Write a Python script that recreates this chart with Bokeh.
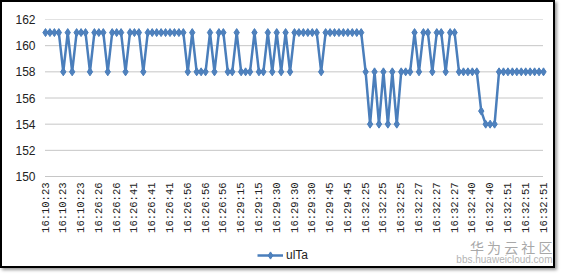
import math
from bokeh.plotting import figure
from bokeh.models import Range1d, FixedTicker, Legend, LegendItem, Label, ColumnDataSource
from bokeh.embed import file_html
from bokeh.resources import INLINE

# ---- data ----
ulta = [161, 161, 161, 161, 158, 161, 158, 161, 161, 161, 158, 161, 161, 161, 158,
        161, 161, 161, 158, 161, 161, 161, 158,
        161, 161, 161, 161, 161, 161, 161, 161, 161,
        158, 161, 158, 158, 158, 161, 158, 161, 161, 158, 158, 161, 158, 158, 158,
        161, 158, 158, 161, 158, 161, 158, 161, 158,
        161, 161, 161, 161, 161, 161,
        158,
        161, 161, 161, 161, 161, 161, 161, 161, 161,
        158, 154, 158, 154, 158, 154, 158, 154,
        158, 158, 158,
        161, 158, 161, 161, 158, 161, 161, 158, 161, 161,
        158, 158, 158, 158, 158,
        155, 154, 154, 154,
        158, 158, 158, 158, 158, 158, 158, 158, 158, 158, 158]
tick_labels = ["16:10:23", "16:10:23", "16:10:23", "16:26:26", "16:26:26",
               "16:26:41", "16:26:41", "16:26:41", "16:26:56", "16:26:56", "16:26:56",
               "16:29:15", "16:29:15", "16:29:30", "16:29:30", "16:29:30",
               "16:29:45", "16:29:45", "16:32:25", "16:32:25", "16:32:25",
               "16:32:27", "16:32:27", "16:32:27", "16:32:40", "16:32:40",
               "16:32:51", "16:32:51", "16:32:51"]
label_step = 4
y_ticks = [150, 152, 154, 156, 158, 160, 162]
series_name = "ulTa"

# ---- layout geometry (canvas pixels) ----
W, H = 555, 268
LEFT, RIGHT, TOP = 38, 2, 17
PLOT_X0, PLOT_X1 = 43, 541      # pixel span of first/last category
PLOT_Y_TOP, PLOT_Y_BOT = 17, 174  # pixel span of 162..150

n = len(ulta)
px_per_x = (PLOT_X1 - PLOT_X0) / (n - 1)
x_start = -(PLOT_X0 - LEFT) / px_per_x
x_end = (n - 1) + ((W - RIGHT) - PLOT_X1) / px_per_x
px_per_y = (PLOT_Y_BOT - PLOT_Y_TOP) / (y_ticks[-1] - y_ticks[0])
y_start = y_ticks[0] - (H - PLOT_Y_BOT) / px_per_y

p = figure(width=W, height=H, output_backend="svg", toolbar_location=None,
           x_range=Range1d(x_start, x_end), y_range=Range1d(y_start, y_ticks[-1]),
           min_border_left=LEFT, min_border_right=RIGHT, min_border_top=TOP,
           min_border_bottom=0)
p.styles = {"border": "2px solid #000", "box-shadow": "2px 2px 3px #999"}
p.outline_line_color = None
p.background_fill_color = "white"
p.border_fill_color = "white"

# gridlines across the category span only
p.segment(x0=[0] * len(y_ticks), x1=[n - 1] * len(y_ticks), y0=y_ticks, y1=y_ticks,
          line_color="#8c8c8c", line_dash="1 1", line_width=1)

LINE = "#4A7EBB"
FILL = "#4F81BD"
src = ColumnDataSource(dict(x=list(range(n)), y=ulta))
r_line = p.line("x", "y", source=src, line_color=LINE, line_width=2.5)
r_mark = p.scatter("x", "y", source=src, marker="diamond", size=8,
                   fill_color=FILL, line_color=LINE, line_width=1)

# y axis
p.yaxis.ticker = FixedTicker(ticks=y_ticks)
p.yaxis.axis_line_color = None
p.yaxis.major_tick_line_color = None
p.yaxis.minor_tick_line_color = None
p.yaxis.major_tick_out = 0
p.yaxis.major_label_standoff = 5
p.yaxis.major_label_text_font = "Liberation Sans"
p.yaxis.major_label_text_font_size = "12px"
p.yaxis.major_label_text_color = "#222"

# x axis: category labels drawn below the 150 line
p.xaxis.visible = False
p.xgrid.grid_line_color = None
p.ygrid.grid_line_color = None
xt = [i * label_step for i in range(len(tick_labels))]
p.text(x=xt, y=[y_ticks[0] - 6 / px_per_y] * len(xt), text=tick_labels,
       angle=math.pi / 2, text_align="right", text_baseline="middle",
       text_font={"value": "Liberation Mono"}, text_font_size="10.5px",
       text_color="#222")

legend = Legend(items=[LegendItem(label=series_name, renderers=[r_line, r_mark])],
                location=(217, 6), orientation="horizontal",
                border_line_color=None, background_fill_alpha=0,
                padding=0, margin=0, spacing=0, glyph_width=26, glyph_height=18,
                label_standoff=3, label_text_font="Liberation Sans",
                label_text_font_size="12px", label_text_color="#222")
p.add_layout(legend, "center")

wm1 = Label(x=512, y=24, x_units="screen", y_units="screen", text="华 为 云 社 区",
            text_font="Noto Sans CJK SC", text_font_size="14px", text_color="#a8a8a8",
            text_baseline="middle", text_align="right")
wm2 = Label(x=512, y=11, x_units="screen", y_units="screen", text="bbs.huaweicloud.com",
            text_font="Liberation Sans", text_font_size="10px", text_color="#b4b4b4",
            text_baseline="middle", text_align="right")
p.add_layout(wm1)
p.add_layout(wm2)

open("out.html", "w").write(file_html(p, INLINE))
